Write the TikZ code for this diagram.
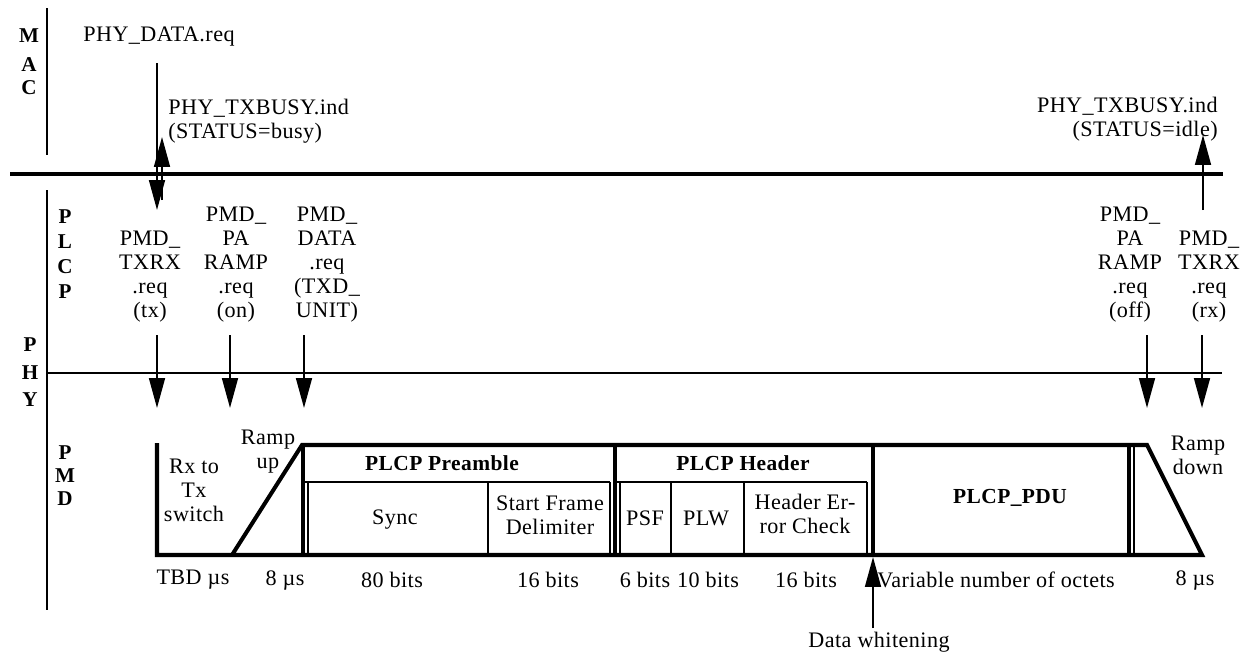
\documentclass[tikz,border=0pt]{standalone}
\usepackage{fontspec}
\setmainfont[LetterSpace=2]{Liberation Serif}
\usetikzlibrary{arrows.meta}
\begin{document}
\begin{tikzpicture}[x=0.02cm,y=-0.02cm,
  lbl/.style={font=\fontsize{12.6}{13.65}\selectfont, inner sep=0pt, align=center},
  blbl/.style={lbl, font=\fontsize{12.2}{13.65}\selectfont\bfseries},
  side/.style={font=\fontsize{12}{12}\selectfont\bfseries, inner sep=0pt},
  heavyrule/.style={line width=2.4pt},
  vrule/.style={line width=1.3pt},
  lightrule/.style={line width=1.1pt},
  frame/.style={line width=2.3pt, line join=miter},
  innerline/.style={line width=1pt},
  arr/.style={line width=1.2pt, -{Triangle[length=17pt, width=9pt]}},
]
\useasboundingbox (0,0) rectangle (1247,656);

% layer letters
\node[side] (mM) at (29,36) {M};
\node[side] (mA) at (29,65) {A};
\node[side] (mC) at (29,88) {C};
\node[side] (pP1) at (65,217) {P};
\node[side] (pL) at (65,242) {L};
\node[side] (pC) at (65,267) {C};
\node[side] (pP2) at (65,292) {P};
\node[side] (hP) at (30,345) {P};
\node[side] (hH) at (30,373) {H};
\node[side] (hY) at (30,400) {Y};
\node[side] (dP) at (65,453) {P};
\node[side] (dM) at (65,476) {M};
\node[side] (dD) at (65,499) {D};

% layer rules
\coordinate (macT) at (47,8);
\coordinate (macB) at (47,155);
\draw[vrule] (macT) -- (macB);
\coordinate (phyT) at (47,190);
\coordinate (phyB) at (47,610);
\draw[vrule] (phyT) -- (phyB);
\coordinate (macL) at (10,174);
\coordinate (macR) at (1223,174);
\draw[heavyrule] (macL) -- (macR);
\coordinate (plcpL) at (47,373);
\coordinate (plcpR) at (1222,373);
\draw[lightrule] (plcpL) -- (plcpR);

% MAC primitives
\node[lbl, anchor=west] (phydata) at (83,37) {PHY\_DATA.req};
\node[lbl, anchor=west, align=left] (busy) at (168,121) {PHY\_TXBUSY.ind\\(STATUS=busy)};
\node[lbl, anchor=east, align=right] (idle) at (1218,119) {PHY\_TXBUSY.ind\\(STATUS=idle)};

\coordinate (dataS) at (157,63);
\coordinate (dataE) at (157,210);
\draw[arr] (dataS) -- (dataE);
\coordinate (busyS) at (162,200);
\coordinate (busyE) at (162,137);
\draw[arr] (busyS) -- (busyE);
\coordinate (idleS) at (1203,210);
\coordinate (idleE) at (1203,135);
\draw[arr] (idleS) -- (idleE);

% PLCP -> PMD primitives
\node[lbl] (txrx) at (150,277) {PMD\_\\TXRX\\.req\\(tx)};
\node[lbl] (rampon) at (236,265) {PMD\_\\PA\\RAMP\\.req\\(on)};
\node[lbl] (datareq) at (327,265) {PMD\_\\DATA\\.req\\(TXD\_\\UNIT)};
\node[lbl] (rampoff) at (1130,265) {PMD\_\\PA\\RAMP\\.req\\(off)};
\node[lbl] (rxreq) at (1209,277) {PMD\_\\TXRX\\.req\\(rx)};

\foreach \n/\x in {a1/157, a2/230, a3/304, a4/1147, a5/1202}{
  \coordinate (\n S) at (\x,335);
  \coordinate (\n E) at (\x,408);
  \draw[arr] (\n S) -- (\n E);
}

% PMD frame
\coordinate (rxTL) at (157,443);
\coordinate (rxBL) at (157,555);
\coordinate (rampB) at (232,555);
\coordinate (rampT) at (302,445);
\coordinate (downT) at (1147,445);
\coordinate (downB) at (1202,555);
\draw[frame] (rxTL) -- (rxBL) -- (downB) -- (downT) -- (rampT) -- (rampB);
\foreach \x in {303,615,873,1129}{
  \draw[frame] (\x,445) -- (\x,555);
}
% inner thin subdivisions
\draw[innerline] (303,482) -- (610,482);
\draw[innerline] (615,482) -- (867,482);
\foreach \x in {308,488,610,620,671,744,867}{
  \draw[innerline] (\x,482) -- (\x,555);
}
\draw[innerline] (1134,445) -- (1134,555);

% PMD texts
\node[lbl] (rxtx) at (194,490) {Rx to\\Tx\\switch};
\node[lbl] (rampup) at (268,452) {Ramp\\up};
\node[blbl] (pre) at (442,463) {PLCP Preamble};
\node[blbl] (hdr) at (743,463) {PLCP Header};
\node[lbl] (sync) at (395,520) {Sync};
\node[lbl] (sfd) at (550,515) {Start Frame\\Delimiter};
\node[lbl] (psf) at (645,518) {PSF};
\node[lbl] (plw) at (706,518) {PLW};
\node[lbl] (hec) at (805,514) {Header Er-\\ror Check};
\node[blbl] (pdu) at (1010,498) {PLCP\_PDU};
\node[lbl] (rampdown) at (1198,455) {Ramp\\down};

% durations
\node[lbl] (d1) at (193,580) {TBD µs};
\node[lbl] (d2) at (285,580) {8 µs};
\node[lbl] (d3) at (392,580) {80 bits};
\node[lbl] (d4) at (548,580) {16 bits};
\node[lbl] (d5) at (645,580) {6 bits};
\node[lbl] (d6) at (708,580) {10 bits};
\node[lbl] (d7) at (806,580) {16 bits};
\node[lbl, anchor=west] (d8) at (877,580) {Variable number of octets};
\node[lbl] (d9) at (1195,580) {8 µs};

% data whitening
\node[lbl] (dw) at (879,642) {Data whitening};
\coordinate (dwS) at (873,628);
\coordinate (dwE) at (873,557);
\draw[arr] (dwS) -- (dwE);
\end{tikzpicture}
\end{document}
